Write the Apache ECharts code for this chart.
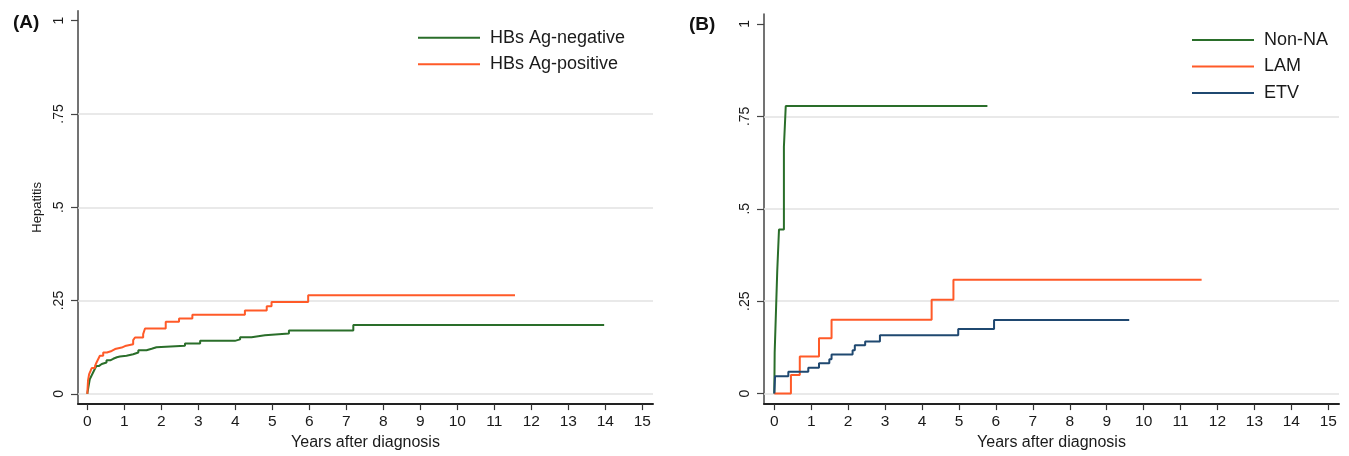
<!DOCTYPE html>
<html><head><meta charset="utf-8">
<script src="https://cdn.jsdelivr.net/npm/echarts@6/dist/echarts.min.js"></script>
<style>html,body{margin:0;padding:0;background:#fff}#c{width:1349px;height:456px}</style>
</head><body><div id="c"></div>
<script>
// ---- data ----
const xTicks = [0,1,2,3,4,5,6,7,8,9,10,11,12,13,14,15];
const yTicks = [0, 0.25, 0.5, 0.75, 1];
const yTickLabels = ['0', '.25', '.5', '.75', '1'];
const gridValues = [0, 0.25, 0.5, 0.75];

// Panel A
const negT = [0,0.03,0.07,0.12,0.16,0.21,0.25,0.32,0.39,0.52,0.62,0.70,0.80,0.88,1.06,1.24,1.38,1.60,1.74,1.87,2.64,3.05,3.99,4.13,4.44,4.80,5.45,7.19,13.97];
const negV = [0,0.018,0.040,0.050,0.058,0.068,0.075,0.080,0.084,0.090,0.094,0.098,0.100,0.102,0.106,0.111,0.117,0.121,0.125,0.129,0.135,0.142,0.146,0.152,0.157,0.162,0.170,0.1845,0.1845];
const posT = [0,0.02,0.05,0.09,0.12,0.21,0.25,0.30,0.34,0.43,0.53,0.66,0.75,0.93,1.02,1.24,1.29,1.51,1.56,2.12,2.48,2.84,4.26,4.85,4.98,5.97,11.56];
const posV = [0,0.036,0.053,0.062,0.069,0.075,0.084,0.094,0.102,0.111,0.115,0.120,0.124,0.128,0.133,0.144,0.151,0.160,0.175,0.193,0.202,0.212,0.2235,0.235,0.246,0.264,0.264];

// Panel B
const nonT = [0,0.01,0.045,0.08,0.127,0.26,0.31,5.77];
const nonV = [0,0.111,0.222,0.333,0.444,0.667,0.778,0.778];
const lamT = [0,0.45,0.69,1.21,1.55,4.26,4.85,11.57];
const lamV = [0,0.05,0.10,0.15,0.20,0.254,0.308,0.308];
const etvT = [0,0.02,0.38,0.92,1.21,1.49,1.55,2.12,2.18,2.46,2.86,4.98,5.95,9.61];
const etvV = [0,0.047,0.059,0.070,0.082,0.093,0.106,0.117,0.131,0.141,0.158,0.175,0.199,0.199];

const namesA = ['HBs Ag-negative', 'HBs Ag-positive'];
const namesB = ['Non-NA', 'LAM', 'ETV'];

// ---- build ----
const FONT = 'Liberation Sans, Arial, sans-serif';
const GREEN = '#2a6e2a', ORANGE = '#ff5a28', NAVY = '#1f4870';
function zip(t, v) { return t.map((x, i) => [x, v[i]]); }

function xAxisCfg(gi, min, max) {
  return {
    type: 'value', gridIndex: gi, min: min, max: max,
    axisLine: { show: true, onZero: false, lineStyle: { color: '#222', width: 2 } },
    axisTick: { show: true, customValues: xTicks, length: 6, lineStyle: { color: '#333', width: 1.2 } },
    axisLabel: { customValues: xTicks, fontSize: 15.5, color: '#1a1a1a', margin: 10, fontFamily: FONT },
    splitLine: { show: false },
    name: 'Years after diagnosis', nameLocation: 'middle', nameGap: 28,
    nameTextStyle: { fontSize: 16, color: '#1a1a1a', fontFamily: FONT }
  };
}
function yAxisCfg(gi, min, max, title) {
  return {
    type: 'value', gridIndex: gi, min: min, max: max,
    axisLine: { show: true, onZero: false, lineStyle: { color: '#444', width: 1.5 } },
    axisTick: { show: true, customValues: yTicks, length: 7, lineStyle: { color: '#444', width: 1.2 } },
    axisLabel: {
      customValues: yTicks, rotate: 90, fontSize: 14, color: '#1a1a1a', margin: 12, fontFamily: FONT,
      formatter: v => { const i = yTicks.findIndex(t => Math.abs(t - v) < 1e-6); return i >= 0 ? yTickLabels[i] : ''; }
    },
    splitLine: { show: false },
    name: title, nameLocation: 'middle', nameGap: 34, nameRotate: 90,
    nameTextStyle: { fontSize: 13, color: '#1a1a1a', fontFamily: FONT }
  };
}
function gridSeries(gi) {
  return {
    type: 'line', xAxisIndex: gi, yAxisIndex: gi, data: [], silent: true, z: 1,
    markLine: {
      symbol: 'none', silent: true, label: { show: false }, animation: false, z: 1,
      lineStyle: { color: '#e2e2e2', width: 1.5, type: 'solid' },
      data: gridValues.map(v => ({ yAxis: v }))
    }
  };
}
function kmSeries(gi, name, color, data) {
  return {
    type: 'line', name: name, xAxisIndex: gi, yAxisIndex: gi, step: 'end', data: data,
    symbol: 'none', showSymbol: false, z: 3,
    lineStyle: { color: color, width: 2 }, itemStyle: { color: color }
  };
}
const legendIcon = 'path://M0,0 L62,0 L62,2 L0,2 Z';
function legendCfg(names, left, top) {
  return {
    data: names, orient: 'vertical', left: left, top: top,
    icon: legendIcon, itemWidth: 62, itemHeight: 2, itemGap: 6.5,
    textStyle: { fontSize: 18, color: '#1a1a1a', fontFamily: FONT, lineHeight: 20, padding: [0, 0, 0, 5] },
    selectedMode: false
  };
}

const option = {
  animation: false,
  backgroundColor: '#fff',
  title: [
    { text: '(A)', left: 8, top: 8, textStyle: { fontSize: 19, fontWeight: 'bold', color: '#111', fontFamily: FONT } },
    { text: '(B)', left: 684, top: 10, textStyle: { fontSize: 19, fontWeight: 'bold', color: '#111', fontFamily: FONT } }
  ],
  grid: [
    { left: 78, top: 10.7, width: 575, height: 396.3 },
    { left: 764, top: 14, width: 575, height: 396.7 }
  ],
  xAxis: [xAxisCfg(0, -0.251, 15.29), xAxisCfg(1, -0.279, 15.29)],
  yAxis: [yAxisCfg(0, -0.0274, 1.0266, 'Hepatitis'), yAxisCfg(1, -0.0285, 1.027, '')],
  legend: [legendCfg(namesA, 413, 22.7), legendCfg(namesB, 1187, 25)],
  series: [
    gridSeries(0),
    kmSeries(0, namesA[0], GREEN, zip(negT, negV)),
    kmSeries(0, namesA[1], ORANGE, zip(posT, posV)),
    gridSeries(1),
    kmSeries(1, namesB[0], GREEN, zip(nonT, nonV)),
    kmSeries(1, namesB[1], ORANGE, zip(lamT, lamV)),
    kmSeries(1, namesB[2], NAVY, zip(etvT, etvV))
  ]
};
const chart = echarts.init(document.getElementById('c'), null, { renderer: 'canvas' });
chart.setOption(option);
</script>
</body></html>
